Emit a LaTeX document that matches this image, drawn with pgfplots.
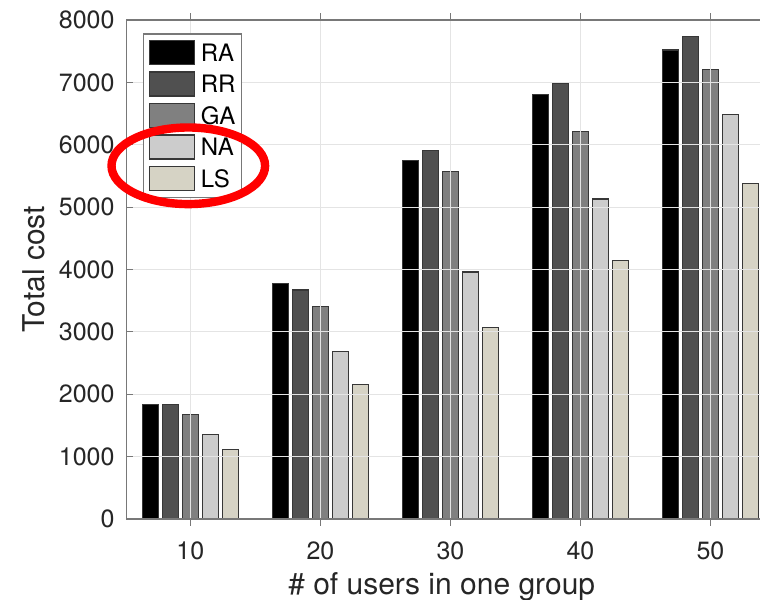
\documentclass[border=0pt]{standalone}
\usepackage{pgfplots}
\pgfplotsset{compat=1.18}
\usepackage{fontspec}
\setmainfont{TeX Gyre Heros}
\definecolor{axgray}{RGB}{120,120,120}
\definecolor{gridgray}{RGB}{228,228,228}
\definecolor{cRA}{RGB}{0,0,0}
\definecolor{cRR}{RGB}{80,80,80}
\definecolor{cGA}{RGB}{128,128,128}
\definecolor{cNA}{RGB}{204,204,204}
\definecolor{cLS}{RGB}{214,211,197}
\definecolor{edge}{RGB}{55,55,55}
\pgfplotstableread{
x RA RR GA NA LS
10 1830 1830 1680 1350 1120
20 3780 3670 3410 2690 2150
30 5750 5910 5570 3960 3070
40 6810 6980 6210 5130 4150
50 7520 7730 7210 6490 5380
}\datatable
\begin{document}
\begin{tikzpicture}
\begin{axis}[
  at={(0,0)}, anchor=south west,
  scale only axis, width=324.35bp, height=249.5bp,
  xmin=5.1, xmax=55, ymin=0, ymax=8000,
  xtick={10,20,30,40,50}, ytick={0,1000,...,8000},
  axis on top,
  grid=major,
  grid style={gridgray, line width=0.6bp, /pgfplots/on layer=axis background},
  axis line style={axgray, line width=0.6bp},
  tick style={axgray, line width=0.6bp},
  tick align=inside, major tick length=3.3bp,
  xtick pos=both, ytick pos=left,
  /pgf/number format/assume math mode=true,
  /pgf/number format/set thousands separator={},
  ticklabel style={font=\fontsize{12.5bp}{14bp}\selectfont, text=black!85},
  yticklabel style={inner sep=0pt, xshift=-5.9bp},
  xticklabel style={inner sep=0pt, yshift=-8bp},
  xlabel={\# of users in one group},
  ylabel={Total cost},
  label style={font=\fontsize{15bp}{17bp}\selectfont, text=black!85},
  xlabel style={at={(axis description cs:0,0)}, anchor=center, xshift=157.5bp, yshift=-33.75bp},
  ylabel style={at={(axis description cs:-0.1437,0.5)}, anchor=center},
  ybar, bar width=1.23,
  legend cell align=left,
  legend style={at={(axis description cs:0,1)}, anchor=north west, xshift=8bp, yshift=-6.65bp,
    draw=axgray, line width=0.6bp, fill=white,
    font=\fontsize{12bp}{14bp}\selectfont,
    inner xsep=3.0bp, inner ysep=3.0bp, row sep=3.15bp, column sep=2.7bp,
    nodes={inner sep=0pt, text height=10.3bp, text depth=1.7bp}},
  mybar/.style={draw=edge, line width=0.6bp,
    legend image code/.code={\draw[##1, draw=edge, line width=0.6bp] (0bp,-6bp) rectangle (22.5bp,6bp);}},
]
\addplot[mybar, fill=cRA, bar shift=-3.077] table[x=x, y=RA] {\datatable};
\addplot[mybar, fill=cRR, bar shift=-1.538] table[x=x, y=RR] {\datatable};
\addplot[mybar, fill=cGA, bar shift=0] table[x=x, y=GA] {\datatable};
\addplot[mybar, fill=cNA, bar shift=1.538] table[x=x, y=NA] {\datatable};
\addplot[mybar, fill=cLS, bar shift=3.077] table[x=x, y=LS] {\datatable};
\legend{RA,RR,GA,NA,LS}
\end{axis}
\draw[red, line width=4.2bp] (30.8bp,176.6bp) ellipse (38.4bp and 19.15bp);
\pgfresetboundingbox
\path[use as bounding box] (-63.35bp,-40.5bp) rectangle (316.65bp,259.5bp);
\end{tikzpicture}
\end{document}
